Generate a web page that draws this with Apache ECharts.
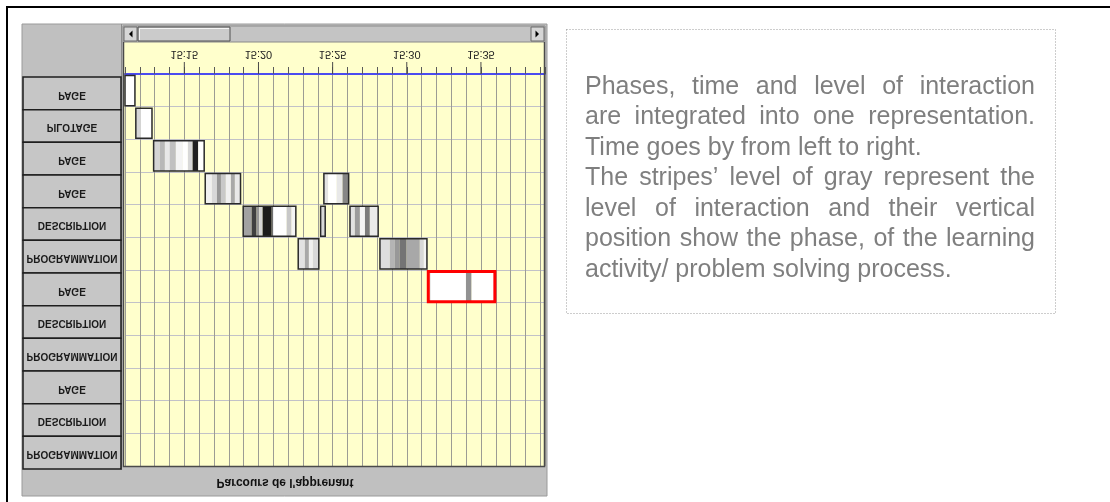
<!DOCTYPE html>
<html>
<head>
<meta charset="utf-8">
<title>Parcours de l'apprenant</title>
<script src="https://cdn.jsdelivr.net/npm/echarts@6/dist/echarts.min.js"></script>
<style>
  html, body { margin: 0; padding: 0; background: #ffffff; }
  #chart { width: 1110px; height: 502px; }
</style>
</head>
<body>
<div id="chart"></div>
<script>
// phases, top row first
const phases = ['PAGE', 'PILOTAGE', 'PAGE', 'PAGE', 'DESCRIPTION', 'PROGRAMMATION',
  'PAGE', 'DESCRIPTION', 'PROGRAMMATION', 'PAGE', 'DESCRIPTION', 'PROGRAMMATION']
// time in minutes after 15:11
const timeTicks = [4, 9, 14, 19, 24]
const timeLabels = ['15:15', '15:20', '15:25', '15:30', '15:35']
const timeMax = 28.32
// sessions: [row, start, end]
const sessions = [
  [0, 0, 0.67], [1, 0.73, 1.82], [2, 1.93, 5.34], [3, 5.41, 7.79], [4, 7.97, 11.52],
  [5, 11.68, 13.07], [4, 13.19, 13.5], [3, 13.41, 15.08], [4, 15.17, 17.07],
  [5, 17.19, 20.36], [6, 20.45, 24.94]
]
const selectedSession = 10
// stripes: [row, start, end, gray level (255 = no interaction)]
const stripes = [
  [0, 0, 0.67, 255],
  [1, 0.73, 1.07, 214], [1, 1.07, 1.82, 255],
  [2, 1.93, 2.35, 212], [2, 2.35, 2.69, 184], [2, 2.69, 3.03, 232], [2, 3.03, 3.43, 192],
  [2, 3.43, 3.9, 244], [2, 3.9, 4.24, 255], [2, 4.24, 4.56, 216], [2, 4.56, 4.94, 32], [2, 4.94, 5.34, 255],
  [3, 5.41, 5.86, 240], [3, 5.86, 6.2, 216], [3, 6.2, 6.47, 152], [3, 6.47, 6.8, 200],
  [3, 6.8, 7.14, 240], [3, 7.14, 7.41, 168], [3, 7.41, 7.79, 232],
  [4, 7.97, 8.54, 162], [4, 8.54, 8.87, 64], [4, 8.87, 9.05, 150], [4, 9.05, 9.28, 214],
  [4, 9.28, 9.89, 28], [4, 9.89, 9.99, 112], [4, 9.99, 10.9, 255], [4, 10.9, 11.23, 200], [4, 11.23, 11.52, 244],
  [5, 11.68, 12.13, 226], [5, 12.13, 12.4, 168], [5, 12.4, 12.67, 240], [5, 12.67, 13.07, 216],
  [4, 13.19, 13.5, 216],
  [3, 13.41, 13.7, 226], [3, 13.7, 14.27, 255], [3, 14.27, 14.67, 232], [3, 14.67, 15.08, 134],
  [4, 15.17, 15.5, 226], [4, 15.5, 15.84, 156], [4, 15.84, 16.18, 244], [4, 16.18, 16.51, 124], [4, 16.51, 17.07, 234],
  [5, 17.19, 17.86, 222], [5, 17.86, 18.2, 180], [5, 18.2, 18.53, 152], [5, 18.53, 18.99, 116],
  [5, 18.99, 19.88, 168], [5, 19.88, 20.15, 216], [5, 20.15, 20.36, 244],
  [6, 20.45, 20.63, 234], [6, 20.63, 22.99, 255], [6, 22.99, 23.37, 146], [6, 23.37, 24.94, 255]
]
const title = 'Parcours de l\'apprenant'
const noteLines = [
  ['Phases, time and level of interaction', true],
  ['are integrated into one representation.', true],
  ['Time goes by from left to right.', false],
  ['The stripes\u2019 level of gray represent the', true],
  ['level of interaction and their vertical', true],
  ['position show the phase, of the learning', true],
  ['activity/ problem solving process.', false]
]

const rowKeys = phases.map((p, i) => p + '#' + i)
const sans = '"Liberation Sans", Arial, sans-serif'

function grayOf(level) {
  const h = level.toString(16).padStart(2, '0')
  return '#' + h + h + h
}

function flipText(x, y, text, font, fill) {
  return {
    type: 'text', x: x, y: y, scaleY: -1,
    style: {
      text: text, font: font, fill: fill,
      align: 'center', verticalAlign: 'middle',
      textAlign: 'center', textVerticalAlign: 'middle'
    }
  }
}

// justified note text, one text element per word
const noteFont = '25px ' + sans
const measure = document.createElement('canvas').getContext('2d')
measure.font = noteFont
const noteLeft = 585
const noteRight = 1035
const noteElements = []
noteLines.forEach(([line, justify], i) => {
  const words = line.split(' ')
  const widths = words.map(w => measure.measureText(w).width)
  const used = widths.reduce((a, b) => a + b, 0)
  const gap = justify && words.length > 1
    ? (noteRight - noteLeft - used) / (words.length - 1)
    : measure.measureText(' ').width
  let x = noteLeft
  words.forEach((w, k) => {
    noteElements.push({
      type: 'text', x: x, y: 87 + i * 30.5, z: 20,
      style: { text: w, font: noteFont, fill: '#7f7f7f', verticalAlign: 'middle', textVerticalAlign: 'middle' }
    })
    x += widths[k] + gap
  })
})

const chart = echarts.init(document.getElementById('chart'), null, { renderer: 'canvas' })

chart.setOption({
  animation: false,
  backgroundColor: '#ffffff',
  grid: [
    { left: 125, top: 74, width: 420, height: 392, show: false },
    { left: 23, top: 77, width: 98, height: 392, show: false }
  ],
  xAxis: [{
    type: 'value',
    gridIndex: 0,
    position: 'top',
    min: 0,
    max: timeMax,
    interval: 1,
    axisLine: { show: true, lineStyle: { color: '#4b4bf0', width: 2 } },
    axisTick: { show: true, length: 7, lineStyle: { color: '#5a5a5a' } },
    axisLabel: { show: false },
    splitLine: { show: true, lineStyle: { color: '#9c9c94' } }
  }, {
    type: 'value',
    gridIndex: 1,
    min: 0,
    max: 1,
    show: false
  }],
  yAxis: [{
    type: 'category',
    gridIndex: 0,
    data: rowKeys,
    inverse: true,
    axisLine: { show: false },
    axisTick: { show: false },
    axisLabel: { show: false },
    splitLine: { show: true, lineStyle: { color: '#c2c2c8' } }
  }, {
    type: 'category',
    gridIndex: 1,
    data: rowKeys,
    inverse: true,
    show: false
  }],
  graphic: {
    elements: [
      { type: 'rect', z: -20, shape: { x: 22, y: 24, width: 525, height: 472 },
        style: { fill: '#c0c0c0', stroke: '#9a9a9a', lineWidth: 1 } },
      { type: 'line', z: -19, shape: { x1: 121.5, y1: 24, x2: 121.5, y2: 470 },
        style: { stroke: '#8c8c8c', lineWidth: 1 } },
      { type: 'rect', z: -18, shape: { x: 123, y: 42, width: 422, height: 424 },
        style: { fill: '#ffffcc' } },
      // scrollbar
      { type: 'rect', z: -17, shape: { x: 123, y: 26, width: 422, height: 16 },
        style: { fill: '#c4c4c4', stroke: '#8a8a8a', lineWidth: 1 } },
      { type: 'rect', z: -16, shape: { x: 124, y: 27, width: 13, height: 14 },
        style: { fill: '#d6d6d6', stroke: '#6a6a6a', lineWidth: 1 } },
      { type: 'polygon', z: -15, shape: { points: [[132.5, 30.5], [132.5, 37.5], [129, 34]] },
        style: { fill: '#000000' } },
      { type: 'rect', z: -16, shape: { x: 531, y: 27, width: 13, height: 14 },
        style: { fill: '#d6d6d6', stroke: '#6a6a6a', lineWidth: 1 } },
      { type: 'polygon', z: -15, shape: { points: [[535.5, 30.5], [535.5, 37.5], [539, 34]] },
        style: { fill: '#000000' } },
      { type: 'rect', z: -16, shape: { x: 138, y: 27, width: 92, height: 14 },
        style: { fill: '#cbcbcb', stroke: '#505050', lineWidth: 1 } },
      { type: 'polyline', z: -15, shape: { points: [[139.5, 40], [139.5, 28.5], [229, 28.5]] },
        style: { stroke: '#f4f4f4', lineWidth: 1 } },
      // plot frame
      { type: 'polyline', z: 5, shape: { points: [[123.5, 42], [123.5, 466.5], [544.5, 466.5], [544.5, 42]] },
        style: { stroke: '#4a4a4a', lineWidth: 1.5, fill: null } },
      // bottom title, upside down like the reference
      Object.assign(flipText(285, 482, title, 'bold 12px ' + sans, '#111111'), { z: 10 }),
      // note box
      { type: 'rect', z: 10, shape: { x: 566.5, y: 29.5, width: 489, height: 284 },
        style: { fill: null, stroke: '#9a9a9a', lineWidth: 1, lineDash: [1, 2] } },
      ...noteElements,
      // outer frame, only its left and top edges fall inside the picture
      { type: 'rect', z: 30, shape: { x: 7, y: 7, width: 1130, height: 520 },
        style: { fill: null, stroke: '#000000', lineWidth: 2 } }
    ]
  },
  series: [{
    // time labels and major ticks above the blue line
    type: 'custom',
    xAxisIndex: 0,
    yAxisIndex: 0,
    encode: { x: 0, y: 1 },
    data: timeTicks.map((t, i) => [t, 0, i]),
    renderItem(params, api) {
      const p = api.coord([api.value(0), 0])
      const top = params.coordSys.y
      const label = timeLabels[api.value(2)]
      return {
        type: 'group',
        children: [
          { type: 'line', shape: { x1: p[0], y1: top - 12, x2: p[0], y2: top },
            style: { stroke: '#4a4a4a', lineWidth: 1 } },
          flipText(p[0], top - 20, label, '11px ' + sans, '#222222')
        ]
      }
    }
  }, {
    // interaction stripes
    type: 'custom',
    xAxisIndex: 0,
    yAxisIndex: 0,
    encode: { x: [1, 2], y: 0 },
    data: stripes,
    renderItem(params, api) {
      const row = api.value(0)
      const a = api.coord([api.value(1), row])
      const b = api.coord([api.value(2), row])
      const band = api.size([0, 1])[1]
      return {
        type: 'rect',
        shape: { x: a[0], y: a[1] - band / 2 + 1.5, width: b[0] - a[0], height: band - 2.5 },
        style: { fill: grayOf(api.value(3)) }
      }
    }
  }, {
    // session outlines
    type: 'custom',
    xAxisIndex: 0,
    yAxisIndex: 0,
    encode: { x: [1, 2], y: 0 },
    data: sessions,
    z: 3,
    renderItem(params, api) {
      const row = api.value(0)
      const a = api.coord([api.value(1), row])
      const b = api.coord([api.value(2), row])
      const band = api.size([0, 1])[1]
      const selected = params.dataIndex === selectedSession
      return {
        type: 'rect',
        shape: { x: a[0], y: a[1] - band / 2 + 1.5, width: b[0] - a[0], height: band - 2.5 },
        style: {
          fill: null,
          stroke: selected ? '#ff0000' : '#2a2a2a',
          lineWidth: selected ? 3 : 1.5
        }
      }
    }
  }, {
    // phase buttons on the left
    type: 'custom',
    xAxisIndex: 1,
    yAxisIndex: 1,
    encode: { x: 0, y: 1 },
    data: phases.map((p, i) => [0, i]),
    renderItem(params, api) {
      const i = api.value(1)
      const c = api.coord([0, i])
      const band = api.size([0, 1])[1]
      const w = api.size([1, 0])[0]
      return {
        type: 'group',
        children: [
          { type: 'rect', shape: { x: c[0], y: c[1] - band / 2, width: w, height: band },
            style: { fill: '#c6c6c6', stroke: '#1e1e1e', lineWidth: 1.5 } },
          flipText(c[0] + w / 2, c[1] + 1, phases[i], 'bold 10px ' + sans, '#1a1a1a')
        ]
      }
    }
  }]
})
</script>
</body>
</html>
